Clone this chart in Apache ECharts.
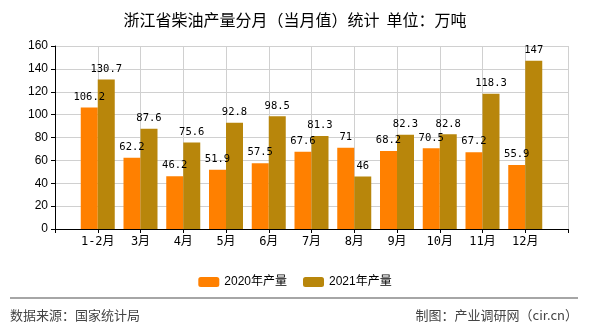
<!DOCTYPE html>
<html>
<head>
<meta charset="utf-8">
<script src="https://cdn.jsdelivr.net/npm/echarts@6/dist/echarts.min.js"></script>
<style>
html,body{margin:0;padding:0;background:#fff;}
#chart{width:590px;height:330px;}
</style>
</head>
<body>
<div id="chart"></div>
<script>
const categories = ['', '1-2月', '3月', '4月', '5月', '6月', '7月', '8月', '9月', '10月', '11月', '12月', ''];
const values2020 = [null, 106.2, 62.2, 46.2, 51.9, 57.5, 67.6, 71, 68.2, 70.5, 67.2, 55.9, null];
const values2021 = [null, 130.7, 87.6, 75.6, 92.8, 98.5, 81.3, 46, 82.3, 82.8, 118.3, 147, null];
const seriesNames = ['2020年产量', '2021年产量'];
const yTicks = { min: 0, max: 160, interval: 20 };

const chart = echarts.init(document.getElementById('chart'), null, { renderer: 'canvas' });
const labelStyle = {
  show: true,
  position: 'top',
  distance: 5,
  color: '#000',
  fontFamily: 'DejaVu Sans Mono, monospace',
  fontSize: 10.5
};
chart.setOption({
  animation: false,
  backgroundColor: '#fff',
  title: {
    text: '浙江省柴油产量分月（当月值）统计  单位：万吨',
    left: 'center',
    top: 7,
    textStyle: { fontFamily: 'Noto Sans CJK SC', fontSize: 16, fontWeight: 'normal', color: '#000' }
  },
  legend: {
    top: 271,
    left: 'center',
    itemWidth: 21,
    itemHeight: 10,
    itemGap: 16,
    textStyle: { fontFamily: 'Liberation Sans, Noto Sans CJK SC', fontSize: 12, color: '#000' },
    data: seriesNames
  },
  grid: { left: 55, right: 22, top: 46, bottom: 101 },
  xAxis: {
    type: 'category',
    data: categories,
    boundaryGap: false,
    axisLine: { lineStyle: { color: '#000', width: 1 } },
    axisTick: { show: true, length: 4, interval: 0, lineStyle: { color: '#000' } },
    axisLabel: { interval: 0, color: '#000', fontSize: 12, margin: 7, fontFamily: 'DejaVu Sans Mono, Noto Sans CJK SC' },
    splitLine: { show: true, interval: 0, lineStyle: { color: '#d0d0d0', width: 1 } }
  },
  yAxis: {
    type: 'value',
    min: yTicks.min,
    max: yTicks.max,
    interval: yTicks.interval,
    axisLine: { show: true, lineStyle: { color: '#000' } },
    axisTick: { show: true, length: 4, lineStyle: { color: '#000' } },
    axisLabel: { color: '#000', fontSize: 12, margin: 7, fontFamily: 'Liberation Sans' },
    splitLine: { show: true, lineStyle: { color: '#d0d0d0', width: 1 } }
  },
  series: [
    {
      name: seriesNames[0], type: 'bar', data: values2020, barWidth: 17, barGap: '0%',
      itemStyle: { color: '#FF8000' }, label: labelStyle
    },
    {
      name: seriesNames[1], type: 'bar', data: values2021, barWidth: 17, barGap: '0%',
      itemStyle: { color: '#B8860B' }, label: labelStyle
    }
  ],
  graphic: [
    { type: 'line', shape: { x1: 10, y1: 298, x2: 578, y2: 298 }, style: { stroke: '#888', lineWidth: 1.5 } },
    { type: 'text', left: 10, top: 309, style: { text: '数据来源：国家统计局', fontFamily: 'Noto Sans CJK SC', fontSize: 13, fill: '#444' } },
    { type: 'text', right: 12, top: 309, style: { text: '制图：产业调研网（cir.cn）', fontFamily: 'Noto Sans CJK SC', fontSize: 13, fill: '#444' } }
  ]
});
</script>
</body>
</html>
